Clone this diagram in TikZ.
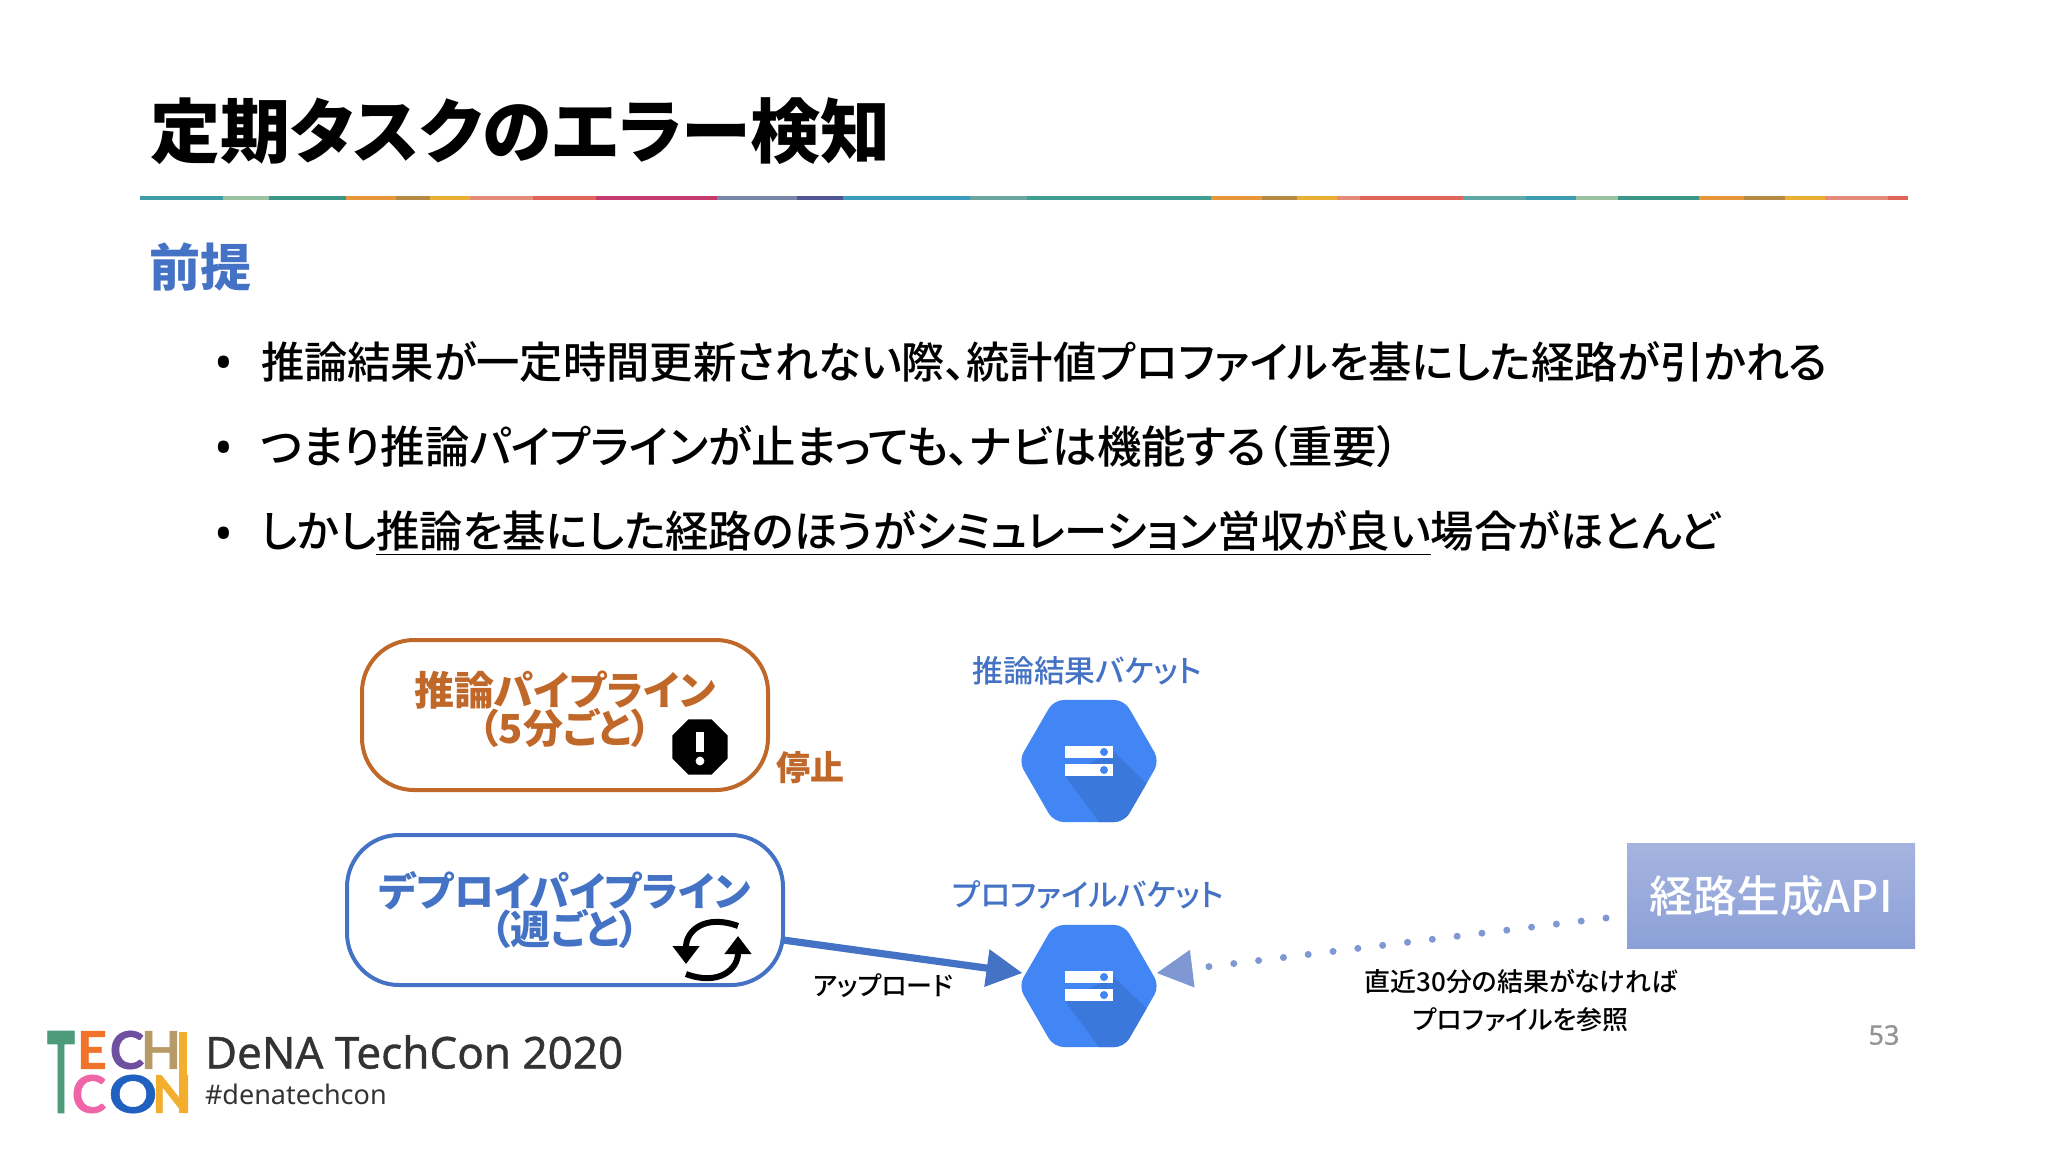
\documentclass[tikz,border=0pt]{standalone}
\usepackage{fontspec}
\setmainfont{Noto Sans CJK JP}[RawFeature={+palt}]
\newfontfamily\medjp{Noto Sans CJK JP Medium}[RawFeature={+palt}]
\newfontfamily\heavyjp{Noto Sans CJK JP Black}[RawFeature={+palt}]
\newfontfamily\latinfont{Noto Sans}
\newfontfamily\latinmed{Noto Sans}[FakeBold=0.8]
\newfontfamily\logofont{Lato}[BoldFont={Lato Bold},BoldFeatures={FakeBold=1}]
\usetikzlibrary{arrows.meta,shapes.geometric}
\definecolor{slideblue}{HTML}{4472C4}
\definecolor{slideorange}{HTML}{C0672A}
\definecolor{bucketblue}{HTML}{4285F4}
\definecolor{bucketdark}{HTML}{3B78DC}
\definecolor{dotblue}{HTML}{7F98D4}
\definecolor{apitop}{HTML}{A5B4DF}
\definecolor{apibottom}{HTML}{8CA0D8}
\definecolor{inkgray}{HTML}{333333}
\definecolor{logogreen}{HTML}{4E9B7C}
\definecolor{logoorange}{HTML}{F0722B}
\definecolor{logopurple}{HTML}{6F4FA0}
\definecolor{logotan}{HTML}{B89A66}
\definecolor{logopink}{HTML}{F065A8}
\definecolor{logoblue}{HTML}{2060C0}
\definecolor{logoyellow}{HTML}{F2AE2C}
\tikzset{
  txt/.style={inner sep=0pt,outer sep=0pt},
  bulletline/.style={txt,anchor=west,font=\medjp\fontsize{21.65}{26}\selectfont,
    label={[txt,font=\latinfont\fontsize{25}{26}\selectfont,label distance=14pt,yshift=-3pt]left:•}},
  pipeline/.style={txt,rounded corners=26pt,line width=2pt,align=center,
    font=\bfseries\fontsize{20}{19}\selectfont},
  bucket/.style={regular polygon,regular polygon sides=6,
    minimum size=70.5pt,inner sep=0pt,outer sep=0pt,fill=bucketblue,rounded corners=5pt,
    path picture={
      \begin{scope}[sharp corners,shift={(path picture bounding box.center)}]
        \fill[bucketdark] (24,-10) -- (80,44) -- (24,80) -- (-24,15) -- cycle;
        \fill[white] (-24,-15) rectangle (24,-3);
        \fill[white] (-24,3) rectangle (24,15);
        \fill[bucketblue] (15,-9) circle (2pt);
        \fill[bucketblue] (15,9) circle (2pt);
      \end{scope}
    }},
  smalllabel/.style={txt,font=\medjp\fontsize{13}{16}\selectfont},
  bucketlabel/.style={txt,text=slideblue,font=\medjp\fontsize{15.4}{19}\selectfont},
  logoletter/.style={txt,font=\logofont\bfseries\fontsize{26}{26}\selectfont},
}
\begin{document}
\begin{tikzpicture}[x=0.5pt,y=-0.5pt]
  \useasboundingbox (0,0) rectangle (2048,1152);

  % Title
  \node[txt,anchor=west,font=\heavyjp\fontsize{35}{40}\selectfont] (title) at (150,131) {定期タスクのエラー検知};
  \foreach \xa/\xb/\col in {140/223/3F9DA8,223/269/9BC2A2,269/346/3C9687,346/396/E8963A,
      396/430/B58A45,430/470/E9B035,470/533/E58B7A,533/596/E0665A,596/717/C73A6E,
      717/797/7A86A8,797/843/4F5590,843/970/3C9CC0,970/1027/6BA5A0,1027/1211/3E9E90,
      1211/1262/E8963A,1262/1297/B58A45,1297/1337/E9B035,1337/1360/E58B7A,1360/1463/E0665A,
      1463/1526/5FA8A5,1526/1576/3C9DB0,1576/1618/9BC2A2,1618/1699/3C9687,1699/1744/E8963A,
      1744/1785/B58A45,1785/1825/E9B035,1825/1888/E58B7A,1888/1908/E0665A}{
    \definecolor{segcolor}{HTML}{\col}
    \fill[segcolor] (\xa,196) rectangle (\xb,200);
  }

  % Premise
  \node[txt,anchor=west,text=slideblue,font=\bfseries\fontsize{25.5}{30}\selectfont] (premise) at (149,267) {前提};
  \node[bulletline] (lineA) at (261,362) {推論結果が一定時間更新されない際、統計値プロファイルを基にした経路が引かれる};
  \node[bulletline,font=\medjp\fontsize{22.2}{26}\selectfont] (lineB) at (261,447) {つまり推論パイプラインが止まっても、ナビは機能する（重要）};
  \node[bulletline] (lineC) at (261,533) {しかし\underline{推論を基にした経路のほうがシミュレーション営収が良い}場合がほとんど};

  % Pipelines
  \node[pipeline,draw=slideorange,text=slideorange,minimum width=203pt,minimum height=75pt] (infer) at (565,715) {推論パイプライン\\[-1.5pt]（5分ごと）\vrule width 0pt height 0pt depth 8pt\relax};
  \node[pipeline,draw=slideblue,text=slideblue,minimum width=218pt,minimum height=75pt] (deploy) at (565,910) {デプロイパイプライン\\[-1.5pt]（週ごと）};
  \node[txt,text=slideorange,font=\bfseries\fontsize{17}{20}\selectfont] (stopped) at (810,768) {停止};

  % Icons
  \node[regular polygon,regular polygon sides=8,fill=black,minimum size=30pt,inner sep=0pt] (alert) at (700,747) {};
  \fill[white] ([xshift=-2pt,yshift=7.5pt]alert.center) rectangle ([xshift=2pt,yshift=-2.5pt]alert.center);
  \fill[white] ([yshift=-7pt]alert.center) circle (2.2pt);
  \coordinate (sync) at (712,950);
  \draw[line width=3pt,-{Triangle[length=9pt,width=13pt]}] ([shift={(13pt,12pt)}]sync) .. controls ([shift={(-3pt,18pt)}]sync) and ([shift={(-13pt,10pt)}]sync) .. ([shift={(-13pt,-7pt)}]sync);
  \draw[line width=3pt,-{Triangle[length=9pt,width=13pt]}] ([shift={(-13pt,-12pt)}]sync) .. controls ([shift={(3pt,-18pt)}]sync) and ([shift={(13pt,-10pt)}]sync) .. ([shift={(13pt,7pt)}]sync);

  % Buckets
  \node[bucket] (result) at (1089,761) {};
  \node[bucket] (profile) at (1089,986) {};
  \node[bucketlabel] (resultname) at (1087,671) {推論結果バケット};
  \node[bucketlabel] (profilename) at (1088,895) {プロファイルバケット};

  % API
  \node[txt,minimum width=144pt,minimum height=52.5pt,top color=apitop,bottom color=apibottom,text=white,font=\medjp\fontsize{21.8}{28}\selectfont] (api) at (1771,896) {経路生成API};

  % Connectors
  \draw[slideblue,line width=3.6pt,-{Triangle[length=18pt,width=18pt]}] ([yshift=-15pt]deploy.east) -- ([shift={(2pt,6.5pt)}]profile.west);
  \draw[dotblue,line width=3.5pt,line cap=round,dash pattern=on 0pt off 12.5pt,-{Triangle[length=18pt,width=18pt]}] ([shift={(-10.5pt,-11pt)}]api.west) -- ([shift={(-1.5pt,6.5pt)}]profile.east);
  \node[smalllabel] (upload) at (883,986) {アップロード};
  \node[smalllabel,align=center,font=\medjp\fontsize{13}{19}\selectfont] (note) at (1521,1001) {直近30分の結果がなければ\\プロファイルを参照};
  \node[txt,text=gray!85,font=\latinmed\fontsize{13.5}{16}\selectfont] (pagenum) at (1884,1035) {53};

  % Logo
  \node[logoletter,text=logogreen,xscale=0.9,yscale=2.17] (logoT) at (61,1072) {T};
  \node[logoletter,text=logoorange] (logoE) at (92,1050) {E};
  \node[logoletter,text=logopurple] (logoC) at (127,1050) {C};
  \node[logoletter,text=logotan] (logoH) at (161,1050) {H};
  \node[logoletter,text=logopink] (logoD) at (89,1094) {C};
  \node[logoletter,text=logoblue,xscale=1.15] (logoO) at (133,1094) {O};
  \node[logoletter,text=logoyellow] (logoN) at (172,1094) {N};
  \fill[logoyellow] (179,1032) rectangle (187,1113);
  \node[txt,anchor=west,text=inkgray,font=\latinmed\fontsize{22}{26}\selectfont] (event) at (205,1052) {DeNA TechCon 2020};
  \node[txt,anchor=west,text=inkgray,font=\latinfont\fontsize{13.5}{18}\selectfont] (tag) at (205,1094) {\#denatechcon};
\end{tikzpicture}
\end{document}
